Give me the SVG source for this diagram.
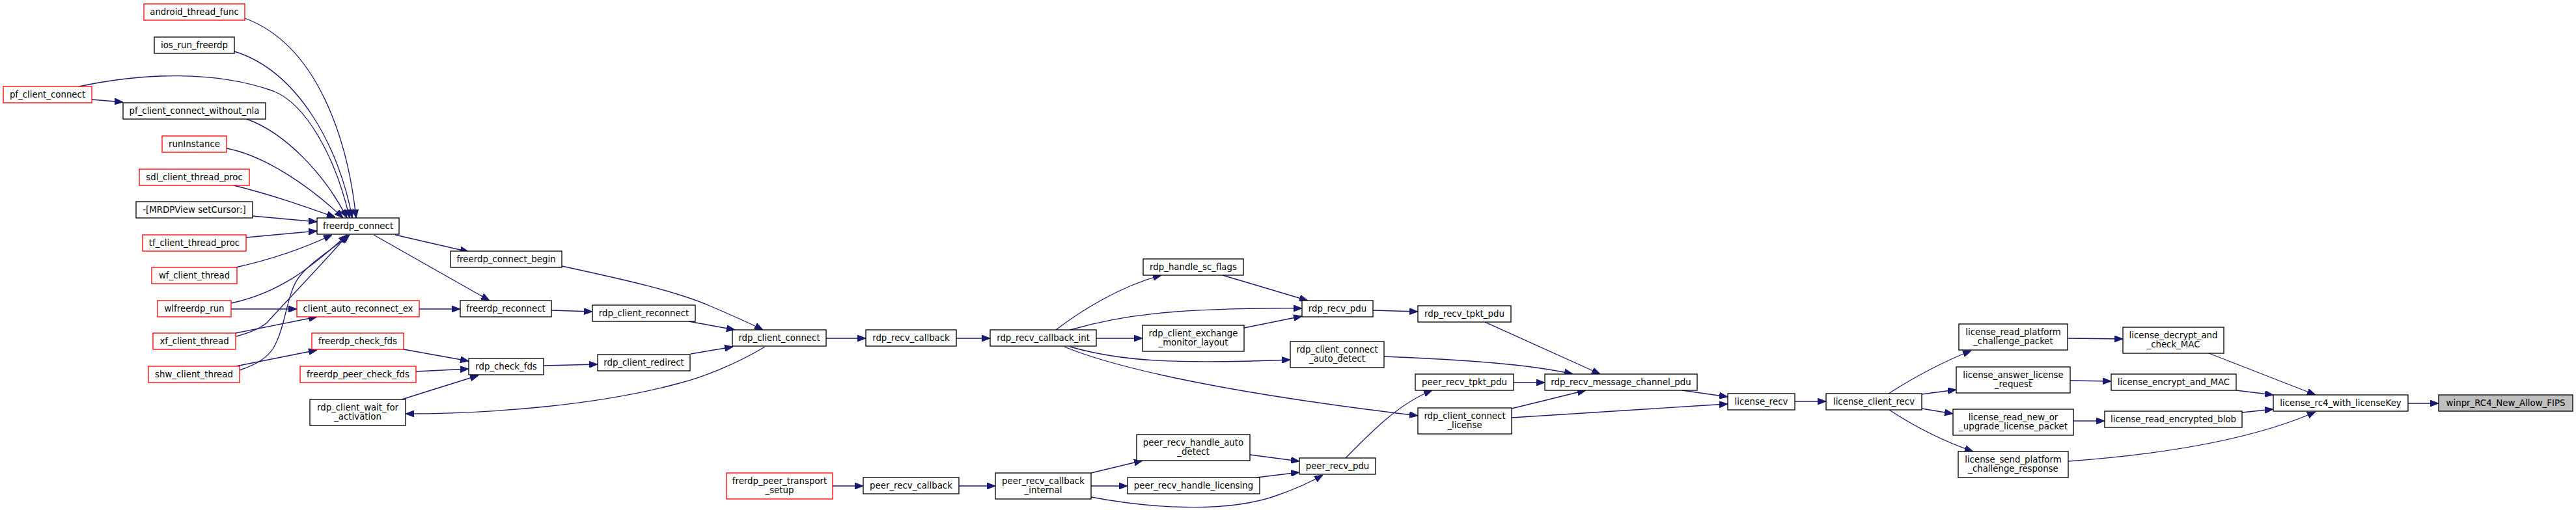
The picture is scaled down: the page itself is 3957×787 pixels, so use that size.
<svg xmlns="http://www.w3.org/2000/svg" width="3957" height="787" viewBox="0 0 3957 787">
<style>
.n rect{fill:#fff;stroke:#000;stroke-width:1.33}
.r rect{stroke:#ff0000}
.g rect{fill:#bfbfbf}
text{font-family:"DejaVu Sans","Noto Sans",sans-serif;font-size:13.33px;text-anchor:middle;fill:#000}
#edges path{fill:none;stroke:#191970;stroke-width:1.33;marker-end:url(#ah)}
</style>
<defs>
<marker id="ah" viewBox="0 0 13 10" refX="13" refY="5" markerWidth="13" markerHeight="10" markerUnits="userSpaceOnUse" orient="auto">
<path d="M0,0 L13,5 L0,10 z" fill="#191970" stroke="#191970" stroke-width="1"/>
</marker>
</defs>
<rect width="3957" height="787" fill="#fff"/>
<g id="edges">
<path d="M376,28 C490,70 535,220 547,335"/>
<path d="M360,79 C460,110 522,230 541,335"/>
<path d="M121,133 C220,112 330,108 420,140 C470,160 515,240 537,335"/>
<path d="M141,153 L189,157"/>
<path d="M379,183 C440,205 500,270 533,335"/>
<path d="M348,228 C410,240 480,290 527,335"/>
<path d="M359,285 C420,300 470,318 515,334"/>
<path d="M388,332 L487,341"/>
<path d="M378,365 L487,355"/>
<path d="M362,411 C420,398 470,380 510,361"/>
<path d="M355,466 C430,450 480,410 533,361"/>
<path d="M355,475 L456,475"/>
<path d="M363,517 C385,511 400,505 410,496 C440,463 505,395 534,361"/>
<path d="M362,512 L487,487"/>
<path d="M368,569 C395,560 410,550 420,535 C440,500 440,450 460,425 C480,400 515,380 537,361"/>
<path d="M362,563 L487,538"/>
<path d="M607,361 L720,387"/>
<path d="M574,361 L752,462"/>
<path d="M644,475 L707,475"/>
<path d="M863,409 C960,430 1040,448 1090,470 C1125,485 1150,496 1172,507"/>
<path d="M847,477 L910,479"/>
<path d="M1058,494 L1129,507"/>
<path d="M620,537 L720,555"/>
<path d="M639,571 L720,567"/>
<path d="M617,614 L735,577"/>
<path d="M835,562 L918,560"/>
<path d="M1061,544 L1126,533"/>
<path d="M1175,533 C1130,560 1080,580 1040,590 C920,622 760,636 623,636"/>
<path d="M1269,520 L1330,520"/>
<path d="M1469,520 L1521,520"/>
<path d="M1622,507 C1660,478 1720,440 1784,423"/>
<path d="M1644,507 C1720,485 1800,473 2000,474"/>
<path d="M1684,520 L1755,520"/>
<path d="M1644,533 C1720,555 1800,560 1982,553"/>
<path d="M1635,533 C1700,560 1850,600 2178,639"/>
<path d="M1878,423 L2009,462"/>
<path d="M1911,504 L2000,486"/>
<path d="M2109,477 L2178,479"/>
<path d="M2281,495 L2458,575"/>
<path d="M2126,548 C2250,553 2350,560 2416,575"/>
<path d="M2325,588 L2373,588"/>
<path d="M2322,628 L2436,600"/>
<path d="M2322,642 C2450,634 2550,627 2654,621"/>
<path d="M2584,600 L2654,610"/>
<path d="M1279,747 L1326,747"/>
<path d="M1473,747 L1529,747"/>
<path d="M1676,727 L1755,708"/>
<path d="M1676,747 L1732,747"/>
<path d="M1676,764 C1760,780 1880,790 1960,762 C1995,750 2015,740 2032,730"/>
<path d="M1920,699 L1996,709"/>
<path d="M1930,734 L1996,726"/>
<path d="M2067,704 C2110,660 2150,620 2200,600"/>
<path d="M2757,617 L2805,617"/>
<path d="M2901,605 C2940,580 2980,558 3028,539"/>
<path d="M2952,606 L3005,599"/>
<path d="M2952,628 L3000,636"/>
<path d="M2902,630 C2940,655 2985,678 3031,694"/>
<path d="M3176,520 L3261,521"/>
<path d="M3180,585 L3243,586"/>
<path d="M3185,647 L3233,647"/>
<path d="M3177,709 C3300,700 3450,680 3557,633"/>
<path d="M3393,543 L3557,607"/>
<path d="M3435,600 L3492,607"/>
<path d="M3444,634 L3492,629"/>
<path d="M3699,620 L3746,620"/>
</g>
<g id="n1" class="n r"><rect x="221" y="6" width="155" height="25"/><text x="298.5" y="23">android_thread_func</text></g>
<g id="n2" class="n"><rect x="237" y="57" width="123" height="25"/><text x="298.5" y="74">ios_run_freerdp</text></g>
<g id="n3" class="n r"><rect x="5" y="133" width="136" height="25"/><text x="73" y="150">pf_client_connect</text></g>
<g id="n4" class="n"><rect x="189" y="158" width="219" height="25"/><text x="298.5" y="175">pf_client_connect_without_nla</text></g>
<g id="n5" class="n r"><rect x="249" y="209" width="99" height="25"/><text x="298.5" y="226">runInstance</text></g>
<g id="n6" class="n r"><rect x="214" y="260" width="169" height="25"/><text x="298.5" y="277">sdl_client_thread_proc</text></g>
<g id="n7" class="n"><rect x="209" y="310" width="179" height="25"/><text x="298.5" y="327">-[MRDPView setCursor:]</text></g>
<g id="n8" class="n r"><rect x="219" y="361" width="159" height="25"/><text x="298.5" y="378">tf_client_thread_proc</text></g>
<g id="n9" class="n r"><rect x="233" y="411" width="131" height="25"/><text x="298.5" y="428">wf_client_thread</text></g>
<g id="n10" class="n r"><rect x="242" y="462" width="113" height="25"/><text x="298.5" y="479">wlfreerdp_run</text></g>
<g id="n11" class="n r"><rect x="235" y="512" width="127" height="25"/><text x="298.5" y="529">xf_client_thread</text></g>
<g id="n12" class="n r"><rect x="228" y="563" width="140" height="25"/><text x="298" y="580">shw_client_thread</text></g>
<g id="n13" class="n"><rect x="487" y="335" width="126" height="25"/><text x="550" y="352">freerdp_connect</text></g>
<g id="n14" class="n r"><rect x="456" y="462" width="188" height="25"/><text x="550" y="479">client_auto_reconnect_ex</text></g>
<g id="n15" class="n r"><rect x="479" y="512" width="141" height="25"/><text x="549.5" y="529">freerdp_check_fds</text></g>
<g id="n16" class="n r"><rect x="461" y="563" width="178" height="25"/><text x="550" y="580">freerdp_peer_check_fds</text></g>
<g id="n17" class="n"><rect x="476" y="614" width="147" height="40"/><text x="549.5" y="630.5">rdp_client_wait_for</text><text x="549.5" y="645">_activation</text></g>
<g id="n18" class="n"><rect x="692" y="386" width="171" height="25"/><text x="777.5" y="403">freerdp_connect_begin</text></g>
<g id="n19" class="n"><rect x="707" y="462" width="140" height="25"/><text x="777" y="479">freerdp_reconnect</text></g>
<g id="n20" class="n"><rect x="720" y="551" width="115" height="25"/><text x="777.5" y="568">rdp_check_fds</text></g>
<g id="n21" class="n"><rect x="910" y="469" width="158" height="25"/><text x="989" y="486">rdp_client_reconnect</text></g>
<g id="n22" class="n"><rect x="918" y="545" width="142" height="25"/><text x="989" y="562">rdp_client_redirect</text></g>
<g id="n23" class="n"><rect x="1125" y="507" width="144" height="25"/><text x="1197" y="524">rdp_client_connect</text></g>
<g id="n24" class="n"><rect x="1330" y="507" width="139" height="25"/><text x="1399.5" y="524">rdp_recv_callback</text></g>
<g id="n25" class="n"><rect x="1521" y="507" width="163" height="25"/><text x="1602.5" y="524">rdp_recv_callback_int</text></g>
<g id="n26" class="n"><rect x="1756" y="398" width="154" height="25"/><text x="1833" y="415">rdp_handle_sc_flags</text></g>
<g id="n27" class="n"><rect x="1755" y="500" width="156" height="40"/><text x="1833" y="516.5">rdp_client_exchange</text><text x="1833" y="531">_monitor_layout</text></g>
<g id="n28" class="n"><rect x="2000" y="462" width="109" height="25"/><text x="2054.5" y="479">rdp_recv_pdu</text></g>
<g id="n29" class="n"><rect x="1982" y="525" width="144" height="40"/><text x="2054" y="541.5">rdp_client_connect</text><text x="2054" y="556">_auto_detect</text></g>
<g id="n30" class="n"><rect x="2178" y="470" width="143" height="25"/><text x="2249.5" y="487">rdp_recv_tpkt_pdu</text></g>
<g id="n31" class="n"><rect x="2174" y="575" width="151" height="25"/><text x="2249.5" y="592">peer_recv_tpkt_pdu</text></g>
<g id="n32" class="n"><rect x="2178" y="627" width="144" height="40"/><text x="2250" y="643.5">rdp_client_connect</text><text x="2250" y="658">_license</text></g>
<g id="n33" class="n"><rect x="2373" y="575" width="234" height="25"/><text x="2490" y="592">rdp_recv_message_channel_pdu</text></g>
<g id="n34" class="n"><rect x="2654" y="605" width="103" height="25"/><text x="2705.5" y="622">license_recv</text></g>
<g id="n35" class="n"><rect x="2805" y="605" width="147" height="25"/><text x="2878.5" y="622">license_client_recv</text></g>
<g id="n36" class="n"><rect x="3009" y="498" width="167" height="40"/><text x="3092.5" y="514.5">license_read_platform</text><text x="3092.5" y="529">_challenge_packet</text></g>
<g id="n37" class="n"><rect x="3005" y="564" width="175" height="40"/><text x="3092.5" y="580.5">license_answer_license</text><text x="3092.5" y="595">_request</text></g>
<g id="n38" class="n"><rect x="3000" y="629" width="185" height="40"/><text x="3092.5" y="645.5">license_read_new_or</text><text x="3092.5" y="660">_upgrade_license_packet</text></g>
<g id="n39" class="n"><rect x="3008" y="694" width="169" height="40"/><text x="3092.5" y="710.5">license_send_platform</text><text x="3092.5" y="725">_challenge_response</text></g>
<g id="n40" class="n"><rect x="3261" y="503" width="155" height="40"/><text x="3338.5" y="519.5">license_decrypt_and</text><text x="3338.5" y="534">_check_MAC</text></g>
<g id="n41" class="n"><rect x="3243" y="575" width="192" height="25"/><text x="3339" y="592">license_encrypt_and_MAC</text></g>
<g id="n42" class="n"><rect x="3233" y="632" width="211" height="25"/><text x="3338.5" y="649">license_read_encrypted_blob</text></g>
<g id="n43" class="n"><rect x="3492" y="607" width="207" height="25"/><text x="3595.5" y="624">license_rc4_with_licenseKey</text></g>
<g id="n44" class="n g"><rect x="3746" y="607" width="206" height="25"/><text x="3849" y="624">winpr_RC4_New_Allow_FIPS</text></g>
<g id="n45" class="n r"><rect x="1116" y="727" width="163" height="40"/><text x="1197.5" y="743.5">frerdp_peer_transport</text><text x="1197.5" y="758">_setup</text></g>
<g id="n46" class="n"><rect x="1326" y="734" width="147" height="25"/><text x="1399.5" y="751">peer_recv_callback</text></g>
<g id="n47" class="n"><rect x="1529" y="727" width="147" height="40"/><text x="1602.5" y="743.5">peer_recv_callback</text><text x="1602.5" y="758">_internal</text></g>
<g id="n48" class="n"><rect x="1746" y="668" width="174" height="40"/><text x="1833" y="684.5">peer_recv_handle_auto</text><text x="1833" y="699">_detect</text></g>
<g id="n49" class="n"><rect x="1732" y="734" width="203" height="25"/><text x="1833.5" y="751">peer_recv_handle_licensing</text></g>
<g id="n50" class="n"><rect x="1996" y="704" width="117" height="25"/><text x="2054.5" y="721">peer_recv_pdu</text></g>
</svg>
